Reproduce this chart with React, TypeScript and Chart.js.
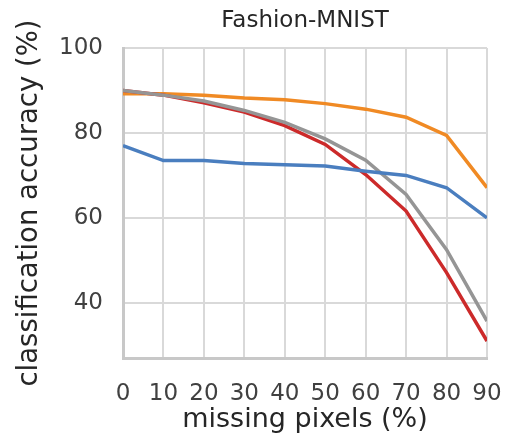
import React, { useEffect, useRef } from "react";
import { Chart, registerables } from "chart.js";

Chart.register(...registerables);

const missing = [0, 10, 20, 30, 40, 50, 60, 70, 80, 90];
const blueSeries = [77.0, 73.5, 73.5, 72.8, 72.5, 72.2, 71.0, 70.0, 67.1, 60.0];
const orangeSeries = [89.2, 89.2, 88.9, 88.2, 87.8, 86.9, 85.6, 83.7, 79.4, 67.1];
const redSeries = [90.0, 88.9, 87.1, 84.9, 81.7, 77.3, 70.2, 61.6, 47.1, 31.0];
const graySeries = [90.0, 88.9, 87.5, 85.3, 82.5, 78.6, 73.6, 65.5, 52.5, 35.7];
const yTicks = [40, 60, 80, 100];
const chartTitle = "Fashion-MNIST";

const FONT = "'DejaVu Sans', sans-serif";

const titlePlugin = {
  id: "centeredTitle",
  afterDraw(chart: any) {
    const { ctx, chartArea } = chart;
    ctx.save();
    ctx.font = `23px ${FONT}`;
    ctx.fillStyle = "#262626";
    ctx.textAlign = "center";
    ctx.textBaseline = "middle";
    ctx.fillText(chartTitle, (chartArea.left + chartArea.right) / 2, 21);
    ctx.restore();
  },
};

export default function App() {
  const ref = useRef<HTMLCanvasElement>(null);
  useEffect(() => {
    document.body.style.margin = "0";
    const mk = (vals: number[], color: string) => ({
      data: missing.map((x, i) => ({ x, y: vals[i] })),
      borderColor: color,
      backgroundColor: color,
      borderWidth: 3.5,
      pointRadius: 0,
      tension: 0,
      fill: false,
    });
    const chart = new Chart(ref.current!, {
      type: "line",
      data: {
        datasets: [
          mk(blueSeries, "#4a7ebf"),
          mk(graySeries, "#959595"),
          mk(redSeries, "#cc2a2a"),
          mk(orangeSeries, "#f08a24"),
        ],
      },
      options: {
        animation: false,
        responsive: false,
        layout: { padding: { top: 48, right: 19, bottom: 0, left: 0 } },
        plugins: {
          legend: { display: false },
          tooltip: { enabled: false },
          title: { display: false },
        },
        scales: {
          x: {
            type: "linear",
            min: 0,
            max: 90,
            afterFit: (axis: any) => {
              axis.height = 82;
              axis.paddingLeft = 0;
              axis.paddingRight = 0;
            },
            ticks: {
              stepSize: 10,
              color: "#404040",
              font: { family: FONT, size: 23 },
              padding: 22,
              maxRotation: 0,
              autoSkip: false,
            },
            grid: { color: "#d9d9d9", lineWidth: 2, drawTicks: false },
            border: { color: "#c8c8c8", width: 3 },
            title: {
              display: true,
              text: "missing pixels (%)",
              color: "#262626",
              font: { family: FONT, size: 27 },
              padding: { top: 0, bottom: 4 },
            },
          },
          y: {
            min: 27,
            max: 100,
            afterBuildTicks: (axis: any) => {
              axis.ticks = yTicks.map((v) => ({ value: v }));
            },
            afterFit: (axis: any) => {
              axis.width = 123;
            },
            ticks: {
              color: "#404040",
              font: { family: FONT, size: 23 },
              padding: 20,
            },
            grid: { color: "#d9d9d9", lineWidth: 2, drawTicks: false },
            border: { color: "#c8c8c8", width: 3 },
            title: {
              display: true,
              text: "classification accuracy (%)",
              color: "#262626",
              font: { family: FONT, size: 27.5 },
              padding: { top: 13, bottom: 0 },
            },
          },
        },
      },
      plugins: [titlePlugin],
    });
    return () => chart.destroy();
  }, []);
  return <canvas ref={ref} width={506} height={440} />;
}
